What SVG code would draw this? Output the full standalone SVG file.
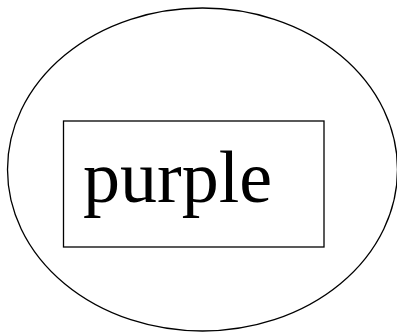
<svg xmlns="http://www.w3.org/2000/svg" width="397" height="333" viewBox="0 0 397 333">
<style>
.s{fill:none;stroke:#000;stroke-width:1.3}
.t{font-family:"Liberation Serif","Times New Roman",serif;font-size:74px;fill:#000}
</style>
<rect width="397" height="333" fill="#fff"/>
<g id="outer"><ellipse class="s" cx="202.5" cy="169.5" rx="195" ry="161.5"/></g>
<g id="inner"><rect class="s" x="63.5" y="121" width="260.5" height="126"/>
<text class="t" x="83" y="202">purple</text></g>
<g id="connectors"/>
</svg>
